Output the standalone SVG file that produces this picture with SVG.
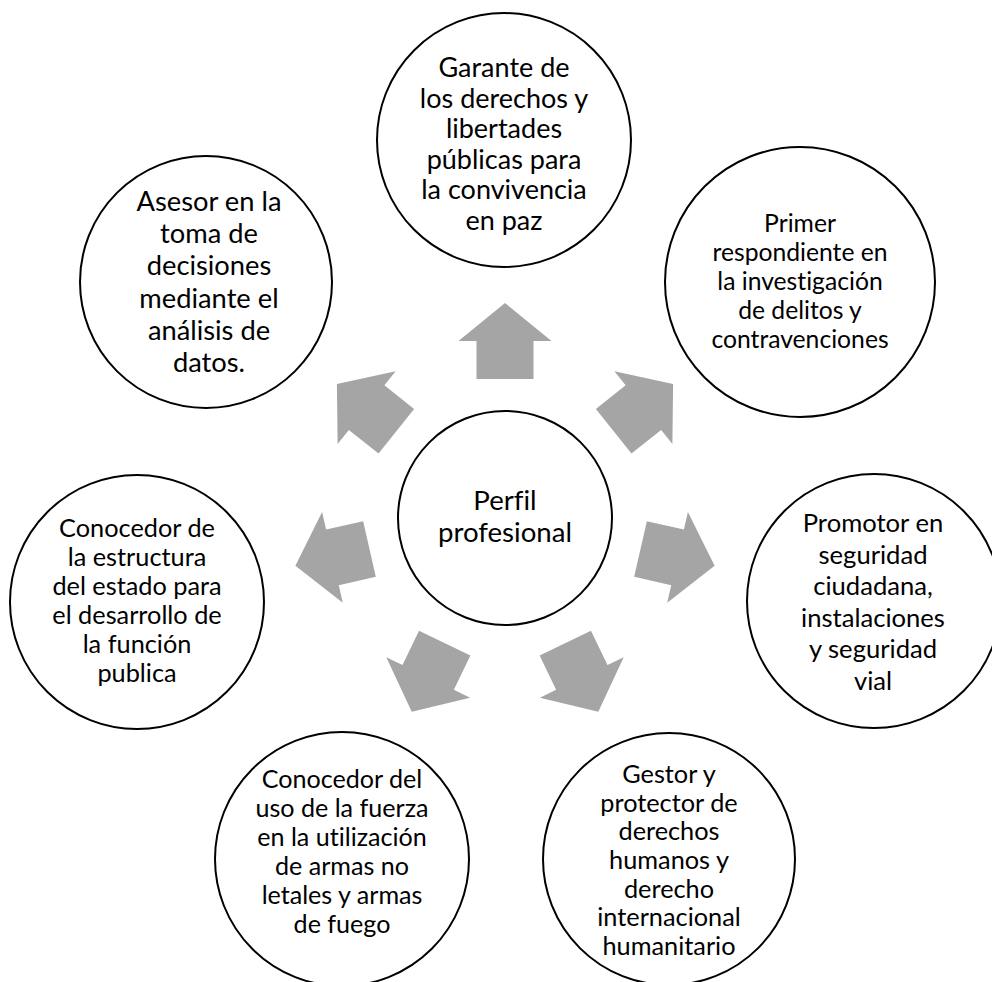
<svg xmlns="http://www.w3.org/2000/svg" xmlns:xlink="http://www.w3.org/1999/xlink" width="992" height="982" viewBox="0 0 992 982">
<style>
  .node { fill: #FFFFFF; stroke: #000000; stroke-width: 2; }
  .arrow { fill: #A5A5A5; stroke: none; }
  text { font-family: Lato, "Liberation Sans", sans-serif; fill: #000000; text-anchor: middle; font-variant-ligatures: none; font-feature-settings: "liga" 0; }
  .c0 { font-size: 27.6px; }
  .c1 { font-size: 27px; }
  .c2 { font-size: 24.7px; }
  .c3 { font-size: 25.6px; }
  .c4 { font-size: 25.3px; }
  .c5 { font-size: 25.1px; }
  .c6 { font-size: 25.3px; }
  .c7 { font-size: 27.3px; }
</style>
<defs>
  <polygon id="arr" points="476.5,379 476.5,341 458.5,341 505,303 551.5,341 533.5,341 533.5,379"/>
</defs>
<rect x="0" y="0" width="992" height="982" fill="#FFFFFF"/>
<g id="connectors">
  <use xlink:href="#arr" href="#arr" class="arrow" transform="rotate(0 505 518)"/>
  <use xlink:href="#arr" href="#arr" class="arrow" transform="rotate(51.4286 505 518)"/>
  <use xlink:href="#arr" href="#arr" class="arrow" transform="rotate(102.8571 505 518)"/>
  <use xlink:href="#arr" href="#arr" class="arrow" transform="rotate(154.2857 505 518)"/>
  <use xlink:href="#arr" href="#arr" class="arrow" transform="rotate(205.7143 505 518)"/>
  <use xlink:href="#arr" href="#arr" class="arrow" transform="rotate(257.1429 505 518)"/>
  <use xlink:href="#arr" href="#arr" class="arrow" transform="rotate(308.5714 505 518)"/>
</g>
<g id="center">
  <circle class="node" cx="505" cy="518" r="107"/>
  <text class="c0" x="505" y="510">Perfil</text>
  <text class="c0" x="505" y="542">profesional</text>
</g>
<g id="n-garante">
  <circle class="node" cx="504" cy="140" r="127"/>
  <text class="c1" x="504" y="77">Garante de</text>
  <text class="c1" x="504" y="107.6">los derechos y</text>
  <text class="c1" x="504" y="138.2">libertades</text>
  <text class="c1" x="504" y="168.8">públicas para</text>
  <text class="c1" x="504" y="199.4">la convivencia</text>
  <text class="c1" x="504" y="230">en paz</text>
</g>
<g id="n-primer">
  <circle class="node" cx="800" cy="282" r="135"/>
  <text class="c2" x="800" y="232">Primer</text>
  <text class="c2" x="800" y="261">respondiente en</text>
  <text class="c2" x="800" y="290">la investigación</text>
  <text class="c2" x="800" y="319">de delitos y</text>
  <text class="c2" x="800" y="348">contravenciones</text>
</g>
<g id="n-promotor">
  <circle class="node" cx="874" cy="601" r="127"/>
  <text class="c3" x="873" y="532">Promotor en</text>
  <text class="c3" x="873" y="563.6">seguridad</text>
  <text class="c3" x="873" y="595.2">ciudadana,</text>
  <text class="c3" x="873" y="626.8">instalaciones</text>
  <text class="c3" x="873" y="658.4">y seguridad</text>
  <text class="c3" x="873" y="690">vial</text>
</g>
<g id="n-gestor">
  <circle class="node" cx="669" cy="859" r="126"/>
  <text class="c4" x="669" y="783">Gestor y</text>
  <text class="c4" x="669" y="811.7">protector de</text>
  <text class="c4" x="669" y="840.3">derechos</text>
  <text class="c4" x="669" y="869">humanos y</text>
  <text class="c4" x="669" y="897.7">derecho</text>
  <text class="c4" x="669" y="926.3">internacional</text>
  <text class="c4" x="669" y="955">humanitario</text>
</g>
<g id="n-fuerza">
  <circle class="node" cx="342" cy="859" r="127"/>
  <text class="c5" x="342" y="788">Conocedor del</text>
  <text class="c5" x="342" y="817">uso de la fuerza</text>
  <text class="c5" x="342" y="846">en la utilización</text>
  <text class="c5" x="342" y="875">de armas no</text>
  <text class="c5" x="342" y="904">letales y armas</text>
  <text class="c5" x="342" y="933">de fuego</text>
</g>
<g id="n-estado">
  <circle class="node" cx="137" cy="602" r="127"/>
  <text class="c6" x="137" y="537">Conocedor de</text>
  <text class="c6" x="137" y="566">la estructura</text>
  <text class="c6" x="137" y="595">del estado para</text>
  <text class="c6" x="137" y="624">el desarrollo de</text>
  <text class="c6" x="137" y="653">la función</text>
  <text class="c6" x="137" y="682">publica</text>
</g>
<g id="n-asesor">
  <circle class="node" cx="206" cy="282" r="126"/>
  <text class="c7" x="209" y="211">Asesor en la</text>
  <text class="c7" x="209" y="243">toma de</text>
  <text class="c7" x="209" y="275">decisiones</text>
  <text class="c7" x="209" y="308">mediante el</text>
  <text class="c7" x="209" y="340">análisis de</text>
  <text class="c7" x="209" y="372">datos.</text>
</g>
</svg>
